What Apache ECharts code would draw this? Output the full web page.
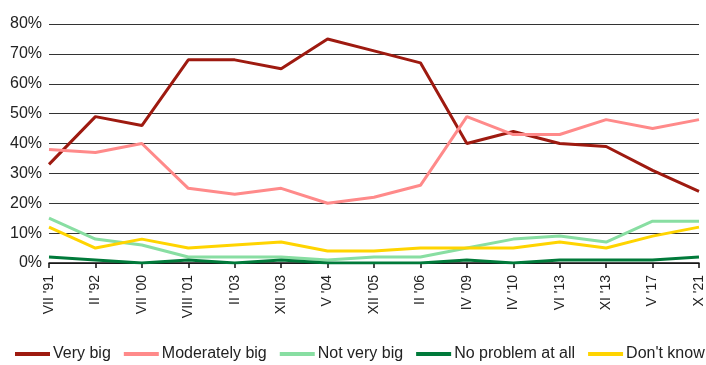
<!DOCTYPE html>
<html>
<head>
<meta charset="utf-8">
<script src="https://cdn.jsdelivr.net/npm/echarts@6/dist/echarts.min.js"></script>
<style>
  html, body { margin: 0; padding: 0; background: #fff; }
  #chart { width: 706px; height: 365px; }
</style>
</head>
<body>
<div id="chart"></div>
<script>
// Survey waves
const categories = ["VII '91", "II '92", "VII '00", "VIII '01", "II '03", "XII '03", "V '04", "XII '05", "II '06", "IV '09", "IV '10", "VI '13", "XI '13", "V '17", "X '21"];

// Share of answers per wave (%)
const veryBig       = [33, 49, 46, 68, 68, 65, 75, 71, 67, 40, 44, 40, 39, 31, 24];
const moderatelyBig = [38, 37, 40, 25, 23, 25, 20, 22, 26, 49, 43, 43, 48, 45, 48];
const notVeryBig    = [15, 8, 6, 2, 2, 2, 1, 2, 2, 5, 8, 9, 7, 14, 14];
const noProblem     = [2, 1, 0, 1, 0, 1, 0, 0, 0, 1, 0, 1, 1, 1, 2];
const dontKnow      = [12, 5, 8, 5, 6, 7, 4, 4, 5, 5, 5, 7, 5, 9, 12];

const seriesDefs = [
  { name: 'Very big', data: veryBig, color: '#9e1a10' },
  { name: 'Moderately big', data: moderatelyBig, color: '#ff8a8a' },
  { name: 'Not very big', data: notVeryBig, color: '#88dea2' },
  { name: 'No problem at all', data: noProblem, color: '#007a3a' },
  { name: "Don't know", data: dontKnow, color: '#ffd400' }
];

const chart = echarts.init(document.getElementById('chart'), null, { renderer: 'canvas' });
const font = 'Liberation Sans, Arial, sans-serif';

chart.setOption({
  animation: false,
  backgroundColor: '#fff',
  grid: { left: 49, right: 6, top: 24, bottom: 102, containLabel: false },
  legend: {
    top: 346,
    left: 15,
    padding: 0,
    itemWidth: 35,
    itemHeight: 4,
    itemGap: 13,
    icon: 'rect',
    textStyle: { fontFamily: font, fontSize: 16, color: '#222', padding: [0, 0, 0, -2] },
    data: seriesDefs.map(s => s.name)
  },
  xAxis: {
    type: 'category',
    data: categories,
    boundaryGap: false,
    axisLine: { lineStyle: { color: '#111', width: 1.5 } },
    axisTick: { show: true, length: 5, lineStyle: { color: '#111', width: 1.5 } },
    axisLabel: {
      rotate: 90,
      interval: 0,
      margin: 12,
      fontFamily: font,
      fontSize: 14,
      color: '#222'
    },
    splitLine: { show: false }
  },
  yAxis: {
    type: 'value',
    min: 0,
    max: 80,
    interval: 10,
    axisLine: { show: false },
    axisTick: { show: false },
    axisLabel: {
      formatter: '{value}%',
      fontFamily: font,
      fontSize: 16,
      color: '#222',
      margin: 7
    },
    splitLine: { lineStyle: { color: '#333', width: 1 } }
  },
  series: seriesDefs.map(s => ({
    name: s.name,
    type: 'line',
    data: s.data,
    symbol: 'none',
    smooth: false,
    lineStyle: { color: s.color, width: 3 },
    itemStyle: { color: s.color },
    emphasis: { disabled: true }
  }))
});
</script>
</body>
</html>
